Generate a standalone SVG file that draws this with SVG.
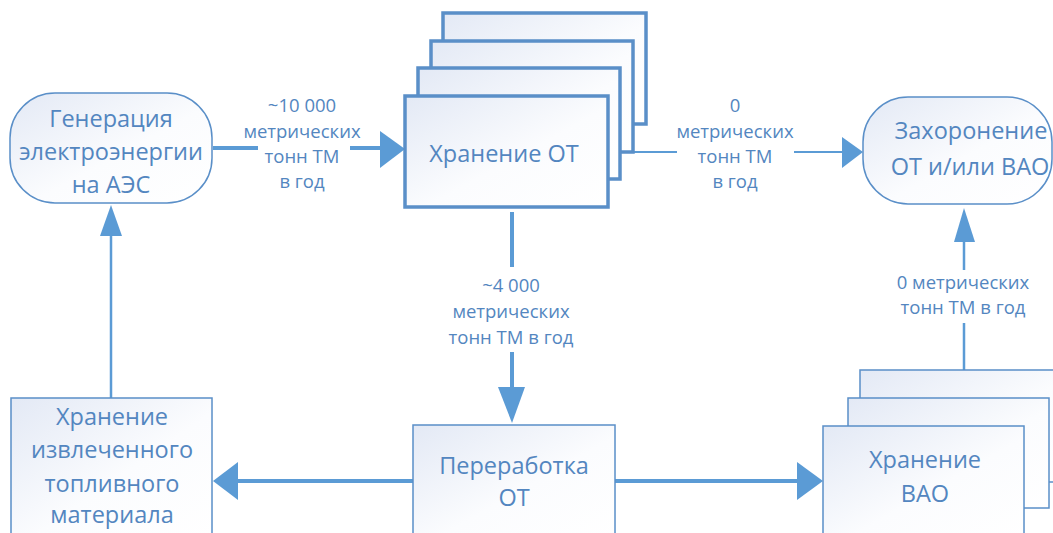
<svg xmlns="http://www.w3.org/2000/svg" width="1053" height="533" viewBox="0 0 1053 533">
<defs>
<linearGradient id="g" x1="0" y1="0" x2="1" y2="1">
<stop offset="0" stop-color="#e3e9f5"/>
<stop offset="0.55" stop-color="#fbfcfe"/>
<stop offset="1" stop-color="#ffffff"/>
</linearGradient>
<style>
.n{fill:url(#g);stroke:#5a8fc8;stroke-width:1.5}
.nb{fill:url(#g);stroke:#5a8fc8;stroke-width:3.5}
.t{font-family:"Open Sans","Noto Sans",sans-serif;font-size:23.5px;fill:#5386c0;text-anchor:middle}
.l{font-family:"Open Sans","Noto Sans",sans-serif;font-size:18.5px;fill:#5386c0;text-anchor:middle}
.c{stroke:#5b9bd5;fill:none}
.h{fill:#5b9bd5}
</style>
</defs>
<g id="connectors">
<path class="c" stroke-width="4" d="M213 148H258M350 148H382"/>
<polygon class="h" points="380,131 405,149 380,168"/>
<path class="c" stroke-width="2" d="M607 152H677M794 152H844"/>
<polygon class="h" points="842,137 863,152 842,168"/>
<path class="c" stroke-width="4" d="M512 212V267M512 352V389"/>
<polygon class="h" points="498,387 525,387 512,423"/>
<path class="c" stroke-width="4" d="M415 481H236"/>
<polygon class="h" points="238,462 213,481 238,500"/>
<path class="c" stroke-width="4" d="M615 481H799"/>
<polygon class="h" points="797,462 823,481 797,500"/>
<path class="c" stroke-width="2.5" d="M111 398V234"/>
<polygon class="h" points="100,236 122,236 111,205"/>
<path class="c" stroke-width="2.5" d="M964 370V323M964 270V240"/>
<polygon class="h" points="954,242 975,242 964,208"/>
<text class="l" x="302" y="112">~10 000</text>
<text class="l" x="302" y="138">метрических</text>
<text class="l" x="302" y="163">тонн ТМ</text>
<text class="l" x="302" y="188">в год</text>
<text class="l" x="735" y="112">0</text>
<text class="l" x="735" y="138">метрических</text>
<text class="l" x="735" y="163">тонн ТМ</text>
<text class="l" x="735" y="188">в год</text>
<text class="l" x="511" y="292">~4 000</text>
<text class="l" x="511" y="318">метрических</text>
<text class="l" x="511" y="344">тонн ТМ в год</text>
<text class="l" x="963" y="289">0 метрических</text>
<text class="l" x="963" y="314">тонн ТМ в год</text>
</g>
<g id="gen">
<rect class="n" x="10" y="93" width="202" height="110" rx="45"/>
<text class="t" x="111" y="127">Генерация</text>
<text class="t" x="111" y="160">электроэнергии</text>
<text class="t" x="111" y="193">на АЭС</text>
</g>
<g id="storage-sf">
<rect class="nb" x="443" y="13" width="203" height="111"/>
<rect class="nb" x="431" y="41" width="202" height="111"/>
<rect class="nb" x="418" y="68" width="202" height="111"/>
<rect class="nb" x="405" y="96" width="203" height="111"/>
<text class="t" x="504" y="162">Хранение ОТ</text>
</g>
<g id="disposal">
<rect class="n" x="863" y="97" width="189" height="107" rx="45"/>
<text class="t" x="971" y="139">Захоронение</text>
<text class="t" x="970" y="175">ОТ и/или ВАО</text>
</g>
<g id="storage-fuel">
<rect class="n" x="11" y="398" width="201" height="140"/>
<text class="t" x="112" y="425">Хранение</text>
<text class="t" x="112" y="458">извлеченного</text>
<text class="t" x="112" y="492">топливного</text>
<text class="t" x="112" y="523">материала</text>
</g>
<g id="reprocessing">
<rect class="n" x="413" y="425" width="202" height="115"/>
<text class="t" x="514" y="474">Переработка</text>
<text class="t" x="514" y="506">ОТ</text>
</g>
<g id="storage-hlw">
<rect class="n" x="860" y="370" width="202" height="112"/>
<rect class="n" x="848" y="398" width="201" height="110"/>
<rect class="n" x="823" y="426" width="201" height="115"/>
<text class="t" x="925" y="468">Хранение</text>
<text class="t" x="925" y="502">ВАО</text>
</g>
</svg>
